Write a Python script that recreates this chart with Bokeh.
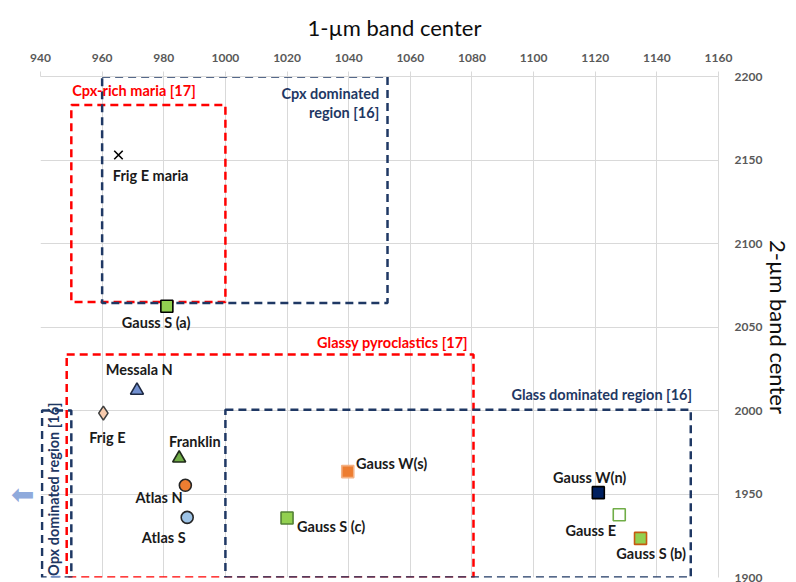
from bokeh.plotting import figure, ColumnDataSource
from bokeh.models import SingleIntervalTicker, FixedTicker, LinearAxis, Range1d
from bokeh.core.properties import value
from bokeh.embed import file_html
from bokeh.resources import INLINE

# ---- data ----
names = ["Frig E maria", "Gauss S (a)", "Messala N", "Frig E", "Franklin", "Atlas N",
         "Atlas S", "Gauss W(s)", "Gauss S (c)", "Gauss W(n)", "Gauss E", "Gauss S (b)"]
band1 = [965.3, 981.0, 971.3, 960.4, 985.0, 987.0, 987.6, 1039.7, 1020.0, 1121.0, 1127.8, 1134.7]
band2 = [2153.0, 2062.4, 2012.0, 1998.4, 1971.4, 1955.2, 1936.0, 1963.4, 1935.6, 1950.8, 1937.6, 1923.4]
markers = ["x", "square", "triangle", "diamond", "triangle", "circle", "circle",
           "square", "square", "square", "square", "square"]
fills = ["#000000", "#92D050", "#7290D0", "#F8CBAD", "#70AD47", "#ED7D31", "#9DC3E6",
         "#ED7D31", "#92D050", "#002060", "#FFFFFF", "#92D050"]
outlines = ["#000000", "#000000", "#1F2A44", "#404040", "#1F2A1A", "#262626", "#262626",
            "#F4B183", "#538135", "#000000", "#70AD47", "#C55A11"]
sizes = [12, 12, 13, 14, 13, 12, 12, 12, 12, 12, 12, 12]
label_dx = [-5.7, -10.7, 2.3, 4.0, 15.7, -26.2, -23.5, 8.3, 10.0, -8.6, -28.5, 10.6]
label_dy = [21.0, 16.3, -21.0, 24.0, -16.7, 12.6, 20.6, -7.7, 8.4, -14.7, 15.3, 15.0]
label_align = ["left", "center", "center", "center", "center", "center", "center",
               "left", "left", "center", "center", "center"]

# off-scale point (partly visible at bottom edge)
extra_x = [944.9]
extra_y = [1898.0]
# off-scale value indicated by an arrow at the left edge
arrow_y = [1950]

# region boxes
box_left = [950.0, 960.0, 948.5, 1000.0, 940.5]
box_right = [1000.0, 1052.6, 1080.5, 1151.0, 950.0]
box_bottom = [2065.0, 2064.4, 1900.0, 1900.0, 1900.0]
box_top = [2183.0, 2200.0, 2033.5, 2000.5, 2000.0]
box_color = ["#FF0000", "#1F3864", "#FF0000", "#1F3864", "#1F3864"]

region_text = ["Cpx-rich maria [17]", "Cpx dominated", "region [16]",
               "Glassy pyroclastics [17]", "Glass dominated region [16]",
               "Opx dominated region [16]"]
region_x = [950.3, 1049.9, 1049.9, 1078.7, 1151.4, 944.1]
region_y = [2191.6, 2189.6, 2178.4, 2040.6, 2009.6, 1952.9]
region_align = ["left", "right", "right", "right", "right", "center"]
region_angle = [0, 0, 0, 0, 0, 1.5708]
region_color = ["#FF0000", "#1F3864", "#1F3864", "#FF0000", "#1F3864", "#1F3864"]

FONT = "Lato"
LBL = "14.5px"

p = figure(width=795, height=582, output_backend="svg", toolbar_location=None,
           x_range=Range1d(940, 1160), y_range=Range1d(1900, 2200),
           x_axis_location="above", y_axis_location="right",
           min_border_left=40, min_border_right=76, min_border_top=76, min_border_bottom=5)
p.outline_line_color = None
p.background_fill_color = "white"
p.border_fill_color = "white"

p.title.text = "1-µm band center"
p.title.align = "left"
p.title.vertical_align = "top"
p.title.offset = 267
p.title.text_font = FONT
p.title.text_font_style = "normal"
p.title.text_font_size = "22px"
p.title.text_color = "#0D0D0D"
p.title.padding = 0
p.title.standoff = 16

xa = p.xaxis[0]
xa.ticker = SingleIntervalTicker(interval=20)
ya = p.yaxis[0]
ya.ticker = SingleIntervalTicker(interval=50)
for ax in (xa, ya):
    ax.axis_line_color = "#D9D9D9"
    ax.major_tick_line_color = "#D9D9D9"
    ax.minor_tick_line_color = None
    ax.major_tick_in = 0
    ax.major_label_text_font = FONT
    ax.major_label_text_font_style = "bold"
    ax.major_label_text_font_size = "12px"
    ax.major_label_text_color = "#595959"
xa.major_tick_out = 5
xa.major_label_standoff = 10
ya.major_tick_out = 0
ya.major_label_standoff = 12

ya.axis_label = "2-µm band center"
ya.axis_label_text_font = FONT
ya.axis_label_text_font_style = "normal"
ya.axis_label_text_font_size = "22px"
ya.axis_label_text_color = "#0D0D0D"
ya.axis_label_standoff = 0

# left "axis" carrying only the off-scale arrow marker
la = LinearAxis(ticker=FixedTicker(ticks=arrow_y),
                major_label_overrides={arrow_y[0]: "⬅"},
                axis_line_color=None, major_tick_line_color=None, minor_tick_line_color=None,
                major_label_text_font="DejaVu Sans", major_label_text_font_size="28px",
                major_label_text_color="#8FAADC", major_label_standoff=0)
p.add_layout(la, "left")

p.xgrid.grid_line_color = "#D9D9D9"
p.ygrid.grid_line_color = "#D9D9D9"
p.xgrid.ticker = xa.ticker
p.ygrid.ticker = ya.ticker

# region boxes
bsrc = ColumnDataSource(dict(l=box_left, r=box_right, b=box_bottom, t=box_top, c=box_color))
p.quad(left="l", right="r", bottom="b", top="t", source=bsrc, fill_alpha=0,
       line_color="c", line_width=2.5, line_dash="8 5")

# region labels
rsrc = ColumnDataSource(dict(x=region_x, y=region_y, t=region_text, a=region_align,
                             ang=region_angle, c=region_color))
p.text(x="x", y="y", text="t", text_align="a", angle="ang", text_color="c", source=rsrc,
       text_font=value(FONT), text_font_style="bold", text_font_size=LBL,
       text_baseline="middle")

# off-scale point
p.scatter(extra_x, extra_y, marker="square", size=9, fill_color="#8FAADC", line_color="#6F8FC8")

# data points
src = ColumnDataSource(dict(x=band1, y=band2, m=markers, f=fills, o=outlines, s=sizes,
                            n=names, dx=label_dx, dy=label_dy, al=label_align))
p.scatter(x="x", y="y", marker="m", fill_color="f", line_color="o", size="s",
          line_width=1.6, source=src)
p.text(x="x", y="y", text="n", x_offset="dx", y_offset="dy", text_align="al",
       text_baseline="middle", text_font=value(FONT), text_font_style="bold",
       text_font_size=LBL, text_color="#1A1A1A", source=src)

open("out.html", "w").write(file_html(p, INLINE))
